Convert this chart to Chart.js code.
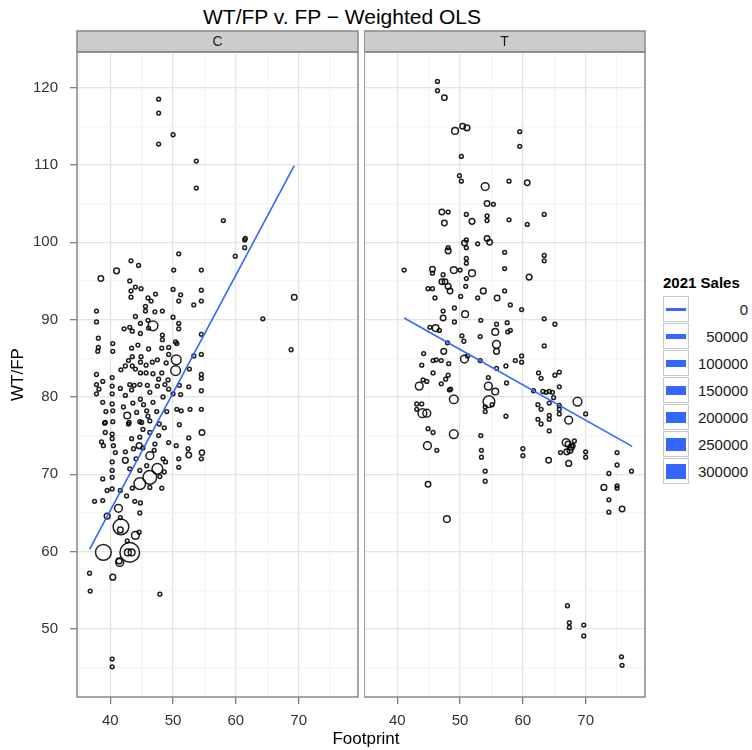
<!DOCTYPE html>
<html>
<head>
<meta charset="utf-8">
<script src="https://cdn.jsdelivr.net/npm/chart.js@4.4.1/dist/chart.umd.min.js"></script>
<style>
  body { margin: 0; background: #fff; font-family: 'Liberation Sans', Arial, sans-serif; }
  #wrap { position: relative; width: 752px; height: 750px; overflow: hidden; background: #fff; }
  canvas { position: absolute; top: 0; }
  #title { position: absolute; top: 5px; left: 0; width: 684px; text-align: center; font-size: 21px; line-height: 24px; color: #000; }
  #xtitle { position: absolute; top: 729px; left: 266px; width: 200px; text-align: center; font-size: 17px; line-height: 20px; color: #000; }
  #legend { position: absolute; left: 663px; top: 274px; width: 89px; }
  #legend .lt { font-weight: bold; font-size: 15px; line-height: 18px; color: #000; white-space: nowrap; }
  #legend .row { position: relative; height: 27px; }
  #legend .key { position: absolute; left: 0; top: 0; width: 24px; height: 24px; border: 1.5px solid #c8c8c8; background: #fff; }
  #legend .bar { position: absolute; left: 2px; right: 2px; background: #3366ff; }
  #legend .lab { position: absolute; right: 4px; top: 0; line-height: 27px; font-size: 15px; color: #1a1a1a; }
</style>
</head>
<body>
<div id="wrap">
  <div id="title">WT/FP v. FP − Weighted OLS</div>
  <canvas id="panelC" width="362" height="750" style="left:0"></canvas>
  <canvas id="panelT" width="285" height="750" style="left:364px"></canvas>
  <div id="xtitle">Footprint</div>
  <div id="legend"></div>
</div>
<script>
const panels = ['C', 'T']
const xMajorTicks = [40, 50, 60, 70]
const xMinorTicks = [35, 45, 55, 65, 75]
const yMajorTicks = [50, 60, 70, 80, 90, 100, 110, 120]
const yMinorTicks = [45, 55, 65, 75, 85, 95, 105, 115]
const salesLevels = [0, 50000, 100000, 150000, 200000, 250000, 300000]

// weighted fit end points per panel
const cFit = [[36.7, 60.3], [69.3, 109.9]]
const tFit = [[41.1, 90.2], [77.4, 73.6]]

// [footprint, wt/fp, 2021 sales]; sales left out = small
const cPoints = [
  [47.7,118.5],[47.7,116.7],[50.0,113.9],[47.7,112.7],[53.7,110.5],[53.7,107.0],[58.0,102.8],[61.5,100.5],
  [61.4,100.3],[61.4,99.3],[59.9,98.2],[54.5,96.4],[54.5,93.8],[54.5,92.4],[53.3,91.9],[69.3,92.9,3000],
  [64.3,90.1],[68.8,86.1],[54.5,88.1],[54.5,85.5],[53.3,85.3],[54.5,82.9],[54.5,82.4],[54.5,80.8],
  [54.5,78.4],[54.6,75.4,3000],[54.6,72.8,2000],[54.5,72.0],
  [43.3,97.6],[44.5,97.0],[41.0,96.3,4000],[38.5,95.3,3000],[43.1,95.0],[43.3,93.7],[44.0,94.2],[44.9,94.0],
  [43.3,92.9],[47.2,93.3],[50.1,96.4],[50.9,98.5],[50.0,93.9],[51.2,93.2],[50.9,92.4],[46.0,92.8],
  [46.5,92.4],[45.6,91.7],[45.6,91.1],[47.1,91.0],[48.3,91.1],[37.8,91.1],[37.8,89.7],[44.0,90.4],
  [46.0,89.9],[46.8,89.2,37000],[46.1,88.9],[44.8,89.5],[43.1,89.0],[42.2,88.8],[43.5,88.5],[44.8,88.2],
  [50.0,90.3],[50.9,89.5],[50.9,88.8],[48.3,88.0],[48.3,87.4],[38.1,87.6],[40.4,86.9],[38.1,86.4],
  [38.0,85.9],[40.4,85.9],[43.4,86.3],[44.4,86.7],[46.1,86.2],[48.2,86.3],[49.3,86.4],[50.4,87.1],
  [50.6,86.9],[49.3,85.5],[44.9,85.2],[43.5,85.2],[42.9,84.7],[44.8,84.5],[45.7,84.1],[46.7,84.5],
  [47.5,84.8],[50.5,84.8,37000],[50.4,83.4,37000],[48.9,84.4],[42.4,84.0],[41.7,83.5],[43.5,84.0],[44.0,83.6],
  [44.8,83.1],[45.7,83.1],[46.8,83.0],[48.2,83.1],[47.7,82.3],[49.2,82.2],[37.8,82.9],[40.3,82.5],
  [38.8,82.0],[37.8,81.6],[38.2,81.0],[40.3,81.4],[37.8,80.4],[40.3,80.4],[43.1,81.6],[43.8,81.5],
  [43.4,80.9],[44.7,81.6],[45.9,81.5],[46.3,80.6],[47.5,81.4],[48.7,81.6],[49.3,81.0],[51.0,81.5],
  [51.2,80.3],[52.5,81.3],[52.6,83.6],[42.4,80.2],[44.8,79.7],[46.8,79.3],[48.4,80.0],[50.0,80.4],
  [38.8,79.3],[40.3,79.1],[39.3,78.1],[40.4,78.2],[42.7,77.6,9000],[44.2,78.0],[45.8,78.2],[47.4,78.1],
  [49.0,78.1],[50.6,78.4],[51.3,78.2],[52.7,78.4],[39.1,76.6],[40.4,76.8],[42.9,76.5],[45.0,76.7],
  [46.3,76.9],[45.3,79.0],[46.0,77.5],[47.8,76.5],[45.2,75.8],[47.7,75.0],[48.6,76.0],[44.1,72.0],
  [45.2,73.4],[47.9,69.7],[48.6,70.3],[43.6,79.2],[41.6,81.1],[42.1,78.7],
  [39.2,76.7],[43.0,76.7],[44.7,76.8],[51.0,76.4],[52.5,74.7],[52.4,73.3],[52.5,72.5,3000],
  [50.9,72.0],[50.9,70.9],[50.5,73.7],[49.3,74.1],[39.2,75.4],[40.3,75.2],[40.3,74.6],[38.6,74.2],
  [38.9,73.7],[40.5,73.7],[40.8,72.8],[42.4,72.9],[42.4,71.8,4000],[43.7,73.3],[44.7,74.8],[43.4,74.6],
  [44.6,73.7,4000],[46.3,75.4],[47.1,73.9],[46.3,72.4,17000],[47.0,73.1],[47.5,70.7,51000],[46.3,69.6,104000],[48.4,72.0],
  [48.8,71.6],[45.8,71.1],[44.7,70.5],[43.1,70.7],[40.3,71.6],[40.3,70.5],[40.3,69.6],[38.8,69.4],
  [39.5,67.9],[40.3,68.1],[41.6,67.9],[42.6,67.2],[43.9,66.5],[44.8,66.3],[43.5,68.2],[44.7,68.8,66000],
  [46.3,68.3],[48.2,68.2],[37.5,66.5],[38.8,66.6],[39.5,64.6,4000],[41.3,65.6,17000],[41.6,64.4],[44.7,65.0],
  [41.7,63.2,150000],[41.6,62.8,4000],[44.0,62.1,17000],[44.6,62.5],[42.7,61.4],[38.9,59.9,150000],[43.1,59.9,266000],[42.8,59.9,9000],
  [43.4,59.9,9000],[41.5,58.6,17000],[41.4,58.8,4000],[36.7,57.2],[40.4,56.7,4000],[36.8,54.9],[47.9,54.5],[40.3,46.1],
  [40.3,45.1]
]

const tPoints = [
  [46.4,120.8],[46.4,119.6],[47.5,118.7,3000],[50.4,115.0,3000],[49.2,114.4,9000],[51.1,114.8,4000],[59.5,114.3],[59.5,112.4],
  [50.2,111.1],[49.9,108.6],[50.2,107.9],[54.0,107.2,17000],[57.8,107.9],[60.7,107.7,3000],[54.3,105.0,3000],[55.3,104.9],
  [47.1,103.9,3000],[48.1,103.9],[47.5,102.5,3000],[51.0,103.6],[51.9,102.7,4000],[54.3,103.4],[54.3,102.8],[57.8,102.9],
  [60.7,102.3],[63.4,103.6],[51.0,100.3],[50.7,99.9,3000],[51.0,99.3],[52.8,99.8],[54.3,100.5,3000],[54.7,100.0,3000],
  [48.1,98.9,4000],[48.1,99.3],[57.1,98.7],[63.4,98.3],[63.4,97.6],[51.0,97.9],[51.0,97.3],[41.1,96.4],
  [45.6,96.5,3000],[45.6,96.0],[49.0,96.4,9000],[50.0,96.4],[51.9,96.0,9000],[47.3,95.8],[51.0,95.3],[57.1,96.6],
  [61.0,95.5,4000],[47.1,94.9,3000],[47.6,94.9,3000],[48.1,94.3,4000],[48.4,93.7,3000],[50.9,94.3],[53.7,93.7,4000],[57.1,93.7],
  [44.9,94.0],[45.6,94.0],[46.0,92.8],[50.1,93.0],[52.8,92.8],[55.9,92.8,3000],
  [58.0,91.9],[59.8,91.3],[47.3,91.1],[49.1,91.5],[50.8,90.7,9000],[47.3,90.2,3000],[49.1,89.7],[53.3,89.9],
  [55.8,89.4],[57.5,89.6],[63.4,90.1],[65.1,89.4],[45.2,89.0],[46.1,88.9,9000],[46.7,88.6],[55.6,88.4,9000],
  [57.6,88.4],[58.0,88.6],[50.3,87.9],[53.2,87.8],[50.6,87.2],[55.8,86.8,17000],[55.8,85.9,4000],[63.4,86.6],
  [48.0,87.0],[44.2,85.6],[47.4,85.9,4000],[45.7,84.7],[46.2,84.8],[47.0,84.7],[48.2,84.3],[43.9,84.1],
  [50.7,84.9,17000],[51.2,85.3],[53.2,84.7],[55.8,83.7],[57.3,84.0],[58.8,84.7],[59.8,85.3],[59.8,84.5],
  [45.7,83.1],[48.1,82.8],[47.7,82.3],[44.1,82.2],[44.7,82.0],[43.5,81.4,17000],[47.0,81.7],[48.5,81.0],
  [48.3,80.9],[49.0,79.7,26000],[54.5,82.5],[54.5,81.4,17000],[55.6,80.7,9000],[54.6,79.4,66000],[55.1,79.0],[54.0,78.7],
  [54.0,78.1],[57.4,81.8],[62.5,83.1],[62.9,82.4],[65.1,82.8],[65.8,83.2],[65.8,81.3],[61.7,80.8],
  [63.2,80.7],[63.7,80.6],[64.2,80.7],[64.7,80.6],[64.9,79.9],[62.4,79.0],[62.9,78.4],[64.2,79.2],
  [65.8,78.9],[65.8,78.4],[65.8,77.8],[68.7,79.4,26000],[70.0,77.8],[67.3,77.0,17000],[64.2,77.6],[64.2,77.1],
  [62.4,77.1],[62.9,76.5],[64.2,75.6],[43.1,79.1],[43.9,79.1],[43.1,78.4],[44.0,77.9,26000],[44.7,77.9,17000],
  [57.3,77.5],[44.9,75.9],[45.7,75.4],[49.0,75.2,26000],[44.8,73.7,17000],[46.3,73.1],[53.3,75.0],[53.4,73.1],
  [53.4,72.2],[60.0,73.3],[60.0,72.4],[54.0,70.4],[54.0,69.1],[44.9,68.7,3000],[66.9,74.1,17000],[67.2,73.9,4000],
  [67.7,73.5,4000],[67.5,73.1,4000],[67.0,72.9,4000],[68.0,73.7],[68.2,74.3],[66.0,72.8],[64.1,71.8,3000],[67.3,71.4,4000],
  [70.0,72.9],[70.0,72.2],[75.0,72.8],[75.0,71.2],[73.7,70.1],[77.3,70.4],[72.9,68.3,4000],[75.0,68.5],
  [75.0,68.2],[73.7,66.7],[73.7,65.1],[75.8,65.5,3000],[67.1,53.0],[67.4,50.8],[67.4,50.2],[69.7,50.5],
  [69.7,49.1],[75.7,46.4],[75.8,45.3],[47.9,64.2,9000]
]

const xMin = 34.7
const xMax = 79.45
const yMin = 41.2
const yMax = 124.6

const fontFamily = "'Liberation Sans', Arial, sans-serif"

function radius(sales) {
  return 1.9 + 8.4 * Math.sqrt(sales / 300000)
}

function barWidth(sales) {
  return 3 + 12 * sales / 300000
}

const panelFrame = {
  id: 'panelFrame',
  beforeDraw(chart, args, opts) {
    const { ctx, chartArea: a } = chart
    ctx.save()
    ctx.fillStyle = '#cccccc'
    ctx.fillRect(a.left, 31, a.right - a.left, a.top - 31)
    ctx.strokeStyle = '#888888'
    ctx.lineWidth = 1.5
    ctx.strokeRect(a.left, 31, a.right - a.left, a.top - 31)
    ctx.fillStyle = '#1a1a1a'
    ctx.font = '14px ' + fontFamily
    ctx.textAlign = 'center'
    ctx.textBaseline = 'middle'
    ctx.fillText(opts.label, (a.left + a.right) / 2, (31 + a.top) / 2 + 1)
    ctx.restore()
  },
  afterDraw(chart) {
    const { ctx, chartArea: a } = chart
    ctx.save()
    ctx.strokeStyle = '#888888'
    ctx.lineWidth = 1.5
    ctx.strokeRect(a.left, a.top, a.right - a.left, a.bottom - a.top)
    ctx.restore()
  }
}

const isMajor = (list, v) => list.includes(v)

function makeChart(id, name, points, fit, showY) {
  const tickFont = { family: fontFamily, size: 15 }
  return new Chart(document.getElementById(id), {
    type: 'scatter',
    data: {
      datasets: [{
        data: fit.map((p) => ({ x: p[0], y: p[1] })),
        showLine: true,
        borderColor: '#3366ff',
        borderWidth: 1.6,
        pointRadius: 0,
        order: 0
      }, {
        data: points.map((p) => ({ x: p[0], y: p[1], s: p[2] || 0 })),
        borderColor: 'rgba(0, 0, 0, 0.88)',
        backgroundColor: 'rgba(0, 0, 0, 0)',
        borderWidth: 1.5,
        pointRadius: (ctx) => radius(ctx.raw ? ctx.raw.s : 0),
        order: 1
      }]
    },
    options: {
      responsive: false,
      animation: false,
      events: [],
      layout: { autoPadding: false, padding: { top: 52, right: 4, left: 0, bottom: 0 } },
      plugins: {
        legend: { display: false },
        tooltip: { enabled: false },
        panelFrame: { label: name }
      },
      scales: {
        x: {
          type: 'linear',
          min: xMin,
          max: xMax,
          afterFit: (s) => {
            s.height = 53
            s.paddingLeft = 0
            s.paddingRight = 0
          },
          afterBuildTicks: (s) => {
            s.ticks = [...xMajorTicks, ...xMinorTicks].sort((a, b) => a - b).map((v) => ({ value: v }))
          },
          border: { display: false },
          grid: {
            color: (c) => isMajor(xMajorTicks, c.tick.value) ? '#e4e4e4' : '#f4f4f4',
            lineWidth: 1.3,
            tickColor: (c) => isMajor(xMajorTicks, c.tick.value) ? '#7f7f7f' : 'rgba(0,0,0,0)',
            tickLength: 7,
            tickWidth: 1.3
          },
          ticks: {
            autoSkip: false,
            maxRotation: 0,
            padding: 8,
            color: '#333333',
            font: tickFont,
            callback: (v) => isMajor(xMajorTicks, v) ? v : ''
          }
        },
        y: {
          type: 'linear',
          min: yMin,
          max: yMax,
          afterFit: (s) => {
            s.width = showY ? 77 : 0
            s.paddingTop = 0
            s.paddingBottom = 0
          },
          afterBuildTicks: (s) => {
            s.ticks = [...yMajorTicks, ...yMinorTicks].sort((a, b) => a - b).map((v) => ({ value: v }))
          },
          border: { display: false },
          title: {
            display: showY,
            text: 'WT/FP',
            color: '#000',
            font: { family: fontFamily, size: 17 },
            padding: { top: 8, bottom: 0 }
          },
          grid: {
            color: (c) => isMajor(yMajorTicks, c.tick.value) ? '#e4e4e4' : '#f4f4f4',
            lineWidth: 1.3,
            drawTicks: showY,
            tickColor: (c) => isMajor(yMajorTicks, c.tick.value) ? '#7f7f7f' : 'rgba(0,0,0,0)',
            tickLength: 7,
            tickWidth: 1.3
          },
          ticks: {
            display: showY,
            autoSkip: false,
            padding: 12,
            color: '#333333',
            font: tickFont,
            callback: (v) => isMajor(yMajorTicks, v) ? v : ''
          }
        }
      }
    },
    plugins: [panelFrame]
  })
}

makeChart('panelC', panels[0], cPoints, cFit, true)
makeChart('panelT', panels[1], tPoints, tFit, false)

// size legend
const legend = document.getElementById('legend')
legend.innerHTML = '<div class="lt">2021 Sales</div><div style="height:4px"></div>'
salesLevels.forEach((s) => {
  const w = barWidth(s)
  const row = document.createElement('div')
  row.className = 'row'
  row.innerHTML = '<div class="key"><div class="bar" style="height:' + w + 'px;top:' + (12 - w / 2) + 'px"></div></div>' +
    '<div class="lab">' + s + '</div>'
  legend.appendChild(row)
})
</script>
</body>
</html>
